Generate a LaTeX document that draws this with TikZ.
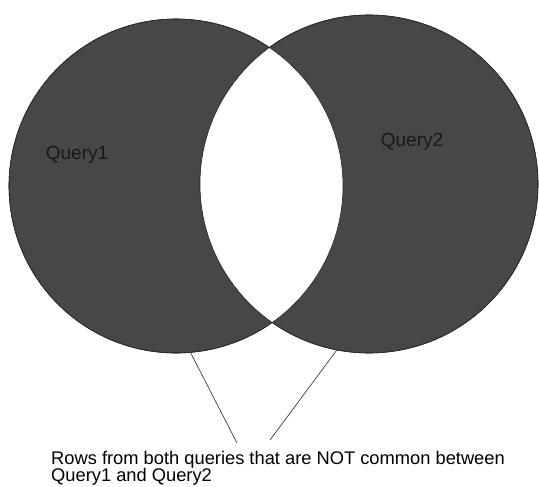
\documentclass[tikz,border=0pt]{standalone}
\usepackage{fontspec}
\setmainfont{Liberation Sans}
\usepackage{tikz}
\usetikzlibrary{positioning}
\definecolor{vennfill}{HTML}{474747}
\tikzset{
  setnode/.style={circle,draw=black!85,fill=vennfill,line width=0.6pt,inner sep=0pt},
  setlabel/.style={font=\fontsize{19}{21}\selectfont,text=black!90,inner sep=0pt},
  notelabel/.style={font=\fontsize{18.3}{17.5}\selectfont,align=left,inner sep=0pt},
  pointer/.style={black!85,line width=0.6pt},
}

\begin{document}
\begin{tikzpicture}[x=1pt,y=-1pt]
  \useasboundingbox (0,0) rectangle (539,487);
  \node[setnode,minimum size=334pt] (q1) at (176,186) {};
  \node[setnode,minimum size=338pt] (q2) at (369,184) {};
  % common part left blank
  \begin{scope}
    \clip (q1.center) circle[radius=167pt];
    \fill[white] (q2.center) circle[radius=169pt];
  \end{scope}
  \draw[black!85,line width=0.6pt] (q1.center) circle[radius=167pt];
  \draw[black!85,line width=0.6pt] (q2.center) circle[radius=169pt];
  \node[setlabel] (l1) at (77,155) {Query1};
  \node[setlabel] (l2) at (412,142) {Query2};
  \node[notelabel,anchor=north west] (note) at (51,451)
    {Rows from both queries that are NOT common between\\Query1 and Query2};
  \coordinate (lend) at (237,443);
  \coordinate (rend) at (270,440);
  \draw[pointer] (q1.-85.8) -- (lend);
  \draw[pointer] (q2.-101.6) -- (rend);
\end{tikzpicture}
\end{document}
